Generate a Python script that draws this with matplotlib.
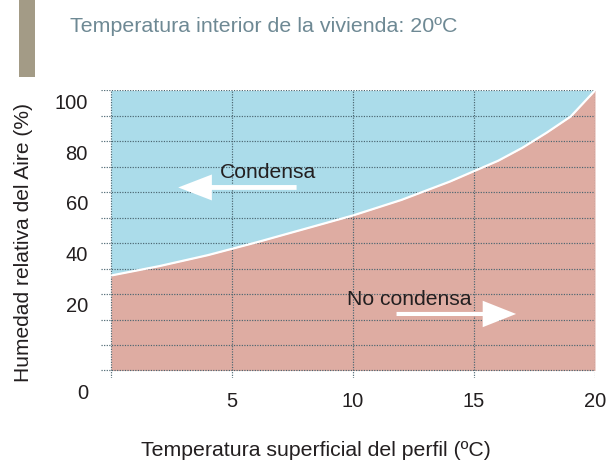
import matplotlib
matplotlib.use("Agg")
import matplotlib.pyplot as plt
import numpy as np
from matplotlib.patches import Rectangle, FancyArrow
from matplotlib.transforms import ScaledTranslation

# ── data ────────────────────────────────────────────────────────
surface_temp = [0, 2, 4, 6, 8, 10, 12, 14, 16, 17, 18, 19, 20]
rel_humidity = [27.3, 31.0, 35.3, 40.3, 45.6, 50.9, 57.0, 64.2, 72.4, 77.5, 83.4, 89.8, 100]
x_ticks = [5, 10, 15, 20]
y_ticks = [20, 40, 60, 80, 100]

BLUE = "#abdcea"
PINK = "#deaca2"
GRID = "#4a6570"
TITLE_C = "#6e8994"
TEXT_C = "#231f20"
BAR_C = "#a39b86"

plt.rcParams["font.family"] = ["Liberation Sans", "DejaVu Sans"]

fig = plt.figure(figsize=(6.09, 4.61), dpi=100)
ax = fig.add_axes([0.1663, 0.1798, 0.8115, 0.6256])
ax.set_xlim(-0.4, 20.02)
ax.set_ylim(-13, 100.3)

# regions
ax.fill_between(surface_temp, rel_humidity, 100, color=BLUE, lw=0, zorder=1)
ax.fill_between(surface_temp, -10, rel_humidity, color=PINK, lw=0, zorder=1)

# dotted grid
dots = (0, (1, 1.2))
ax.hlines(np.arange(-10, 101, 10), -0.4, 20, colors=GRID, lw=0.85, linestyles=[dots], zorder=2)
ax.vlines([0, 5, 10, 15, 20], -13, 100, colors=GRID, lw=0.85, linestyles=[dots], zorder=2)

# boundary
ax.plot(surface_temp, rel_humidity, color="white", lw=1.6, zorder=3)

# arrows + labels
ax.add_patch(FancyArrow(7.67, 61.9, -3.5, 0, width=1.9, head_width=10.2,
                        head_length=1.39, length_includes_head=False,
                        color="white", lw=0, zorder=4))
ax.text(4.5, 67.6, "Condensa", fontsize=15.2, color=TEXT_C, va="center", ha="left", zorder=5)
ax.add_patch(FancyArrow(11.8, 12.2, 3.56, 0, width=1.6, head_width=10.4,
                        head_length=1.38, length_includes_head=False,
                        color="white", lw=0, zorder=4))
ax.text(9.74, 17.7, "No condensa", fontsize=15.2, color=TEXT_C, va="center", ha="left", zorder=5)

# ticks
for s in ax.spines.values():
    s.set_visible(False)
ax.set_xticks(x_ticks)
ax.set_xticklabels([str(v) for v in x_ticks])
ax.set_yticks(y_ticks)
ax.set_yticklabels([str(v) for v in y_ticks])
ax.tick_params(length=0, labelsize=14.5, colors=TEXT_C)
ax.tick_params(axis="x", pad=10.2)
ax.tick_params(axis="y", pad=9.6)
off = ScaledTranslation(0, -10.7 / 100, fig.dpi_scale_trans)
for lab in ax.get_yticklabels():
    lab.set_transform(lab.get_transform() + off)
ax.text(-0.95, -18.9, "0", fontsize=14.5, color=TEXT_C, ha="right", va="center")

# header
fig.patches.append(Rectangle((19 / 609, 1 - 77 / 461), 16 / 609, 77 / 461,
                             transform=fig.transFigure, color=BAR_C, lw=0))
fig.text(70 / 609, 1 - 27 / 461, "Temperatura interior de la vivienda: 20ºC",
         fontsize=15.4, color=TITLE_C, ha="left", va="center")

fig.text(23.5 / 609, 1 - 242.5 / 461, "Humedad relativa del Aire (%)",
         fontsize=15.1, color=TEXT_C, rotation=90, ha="center", va="center")
fig.text(316 / 609, 1 - 450 / 461, "Temperatura superficial del perfil (ºC)",
         fontsize=15.3, color=TEXT_C, ha="center", va="center")

fig.savefig("out.png", dpi=100)
